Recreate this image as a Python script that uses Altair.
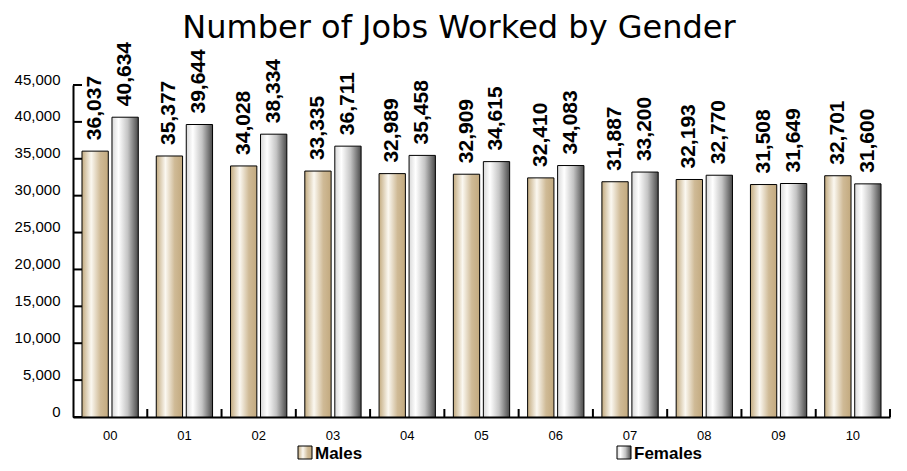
import altair as alt
import pandas as pd

years = ["00", "01", "02", "03", "04", "05", "06", "07", "08", "09", "10"]
series = ["Males", "Females"]
males = [36037, 35377, 34028, 33335, 32989, 32909, 32410, 31887, 32193, 31508, 32701]
females = [40634, 39644, 38334, 36711, 35458, 34615, 34083, 33200, 32770, 31649, 31600]
y_ticks = [0, 5000, 10000, 15000, 20000, 25000, 30000, 35000, 40000, 45000]
title_text = "Number of Jobs Worked by Gender"

rows = []
for i, yr in enumerate(years):
    rows.append({"year": yr, "series": series[0], "value": males[i]})
    rows.append({"year": yr, "series": series[1], "value": females[i]})
df = pd.DataFrame(rows)

W, H = 817, 332

grad_m = {"gradient": "linear", "x1": 0, "x2": 1, "y1": 0, "y2": 0,
          "stops": [{"offset": 0, "color": "#c3ab80"},
                    {"offset": 0.35, "color": "#fbf8f1"},
                    {"offset": 0.7, "color": "#cfba96"},
                    {"offset": 1, "color": "#c2a97e"}]}
grad_f = {"gradient": "linear", "x1": 0, "x2": 1, "y1": 0, "y2": 0,
          "stops": [{"offset": 0, "color": "#d9d9d9"},
                    {"offset": 0.25, "color": "#ffffff"},
                    {"offset": 0.6, "color": "#c4c4c4"},
                    {"offset": 1, "color": "#4a4a4a"}]}

FONT = "Liberation Sans, Arial, sans-serif"

xscale = alt.Scale(domain=years, paddingInner=0.242, paddingOuter=0.121)
yscale = alt.Scale(domain=[0, 45000], nice=False)
oscale = alt.Scale(domain=series, paddingInner=0.123, paddingOuter=0)

x_axis = alt.Axis(title=None, labelAngle=0, ticks=False, domainWidth=2,
                  domainColor="black", labelFont=FONT, labelFontSize=13,
                  labelColor="black", labelPadding=12)
y_axis = alt.Axis(title=None, values=y_ticks, format=",d", ticks=False,
                  grid=False, domainWidth=2, domainColor="black",
                  labelFont=FONT, labelFontSize=15, labelColor="black",
                  labelPadding=13, labelOffset=-6, labelOverlap=False,
                  labelFlush=False)

base = alt.Chart(df)

bars = base.mark_bar(stroke="black", strokeWidth=1).encode(
    x=alt.X("year:N", scale=xscale, sort=years, axis=x_axis),
    xOffset=alt.XOffset("series:N", scale=oscale, sort=series),
    y=alt.Y("value:Q", scale=yscale, axis=y_axis),
    fill=alt.condition(alt.datum.series == series[0], alt.value(grad_m), alt.value(grad_f)),
)

labels = base.mark_text(angle=270, align="left", baseline="middle", dx=11,
                        font=FONT, fontSize=21, fontWeight="bold", color="black").encode(
    x=alt.X("year:N", scale=xscale, sort=years, axis=x_axis),
    xOffset=alt.XOffset("series:N", scale=oscale, sort=series),
    y=alt.Y("value:Q", scale=yscale, axis=y_axis),
    text=alt.Text("value:Q", format=",d"),
)

ytick_rules = alt.Chart(pd.DataFrame({"value": y_ticks})).mark_rule(
    color="black", strokeWidth=2).encode(
    y=alt.Y("value:Q", scale=yscale, axis=y_axis), x=alt.value(0), x2=alt.value(9))

xtick_rules = alt.Chart(pd.DataFrame({"year": years})).mark_rule(
    color="black", strokeWidth=2, xOffset=W / len(years) / 2).encode(
    x=alt.X("year:N", scale=xscale, sort=years, axis=x_axis),
    y=alt.value(H), y2=alt.value(H - 8))

leg_m_box = alt.Chart(pd.DataFrame({"s": [series[0]]})).mark_rect(
    fill=grad_m, stroke="black", strokeWidth=1).encode(
    x=alt.value(225), x2=alt.value(239), y=alt.value(361), y2=alt.value(374))
leg_f_box = alt.Chart(pd.DataFrame({"s": [series[1]]})).mark_rect(
    fill=grad_f, stroke="black", strokeWidth=1).encode(
    x=alt.value(544), x2=alt.value(558), y=alt.value(361), y2=alt.value(374))
leg_m_txt = alt.Chart(pd.DataFrame({"s": [series[0]]})).mark_text(
    align="left", baseline="alphabetic", font=FONT, fontSize=17, fontWeight="bold",
    color="black").encode(x=alt.value(242), y=alt.value(374), text="s:N")
leg_f_txt = alt.Chart(pd.DataFrame({"s": [series[1]]})).mark_text(
    align="left", baseline="alphabetic", font=FONT, fontSize=17, fontWeight="bold",
    color="black").encode(x=alt.value(561), y=alt.value(374), text="s:N")

title = alt.Chart(pd.DataFrame({"t": [title_text]})).mark_text(
    align="center", baseline="alphabetic", font="DejaVu Sans", fontSize=32,
    color="black").encode(x=alt.value(386), y=alt.value(-47), text="t:N")

chart = alt.layer(
    bars, labels, ytick_rules, xtick_rules,
    leg_m_box, leg_f_box, leg_m_txt, leg_f_txt, title
).properties(
    width=W, height=H,
    autosize=alt.AutoSizeParams(type="none"),
    padding={"left": 65, "top": 77, "right": 4, "bottom": 46},
).configure_view(stroke=None)

chart.save("out.html", embed_options={"renderer": "svg", "actions": False})
